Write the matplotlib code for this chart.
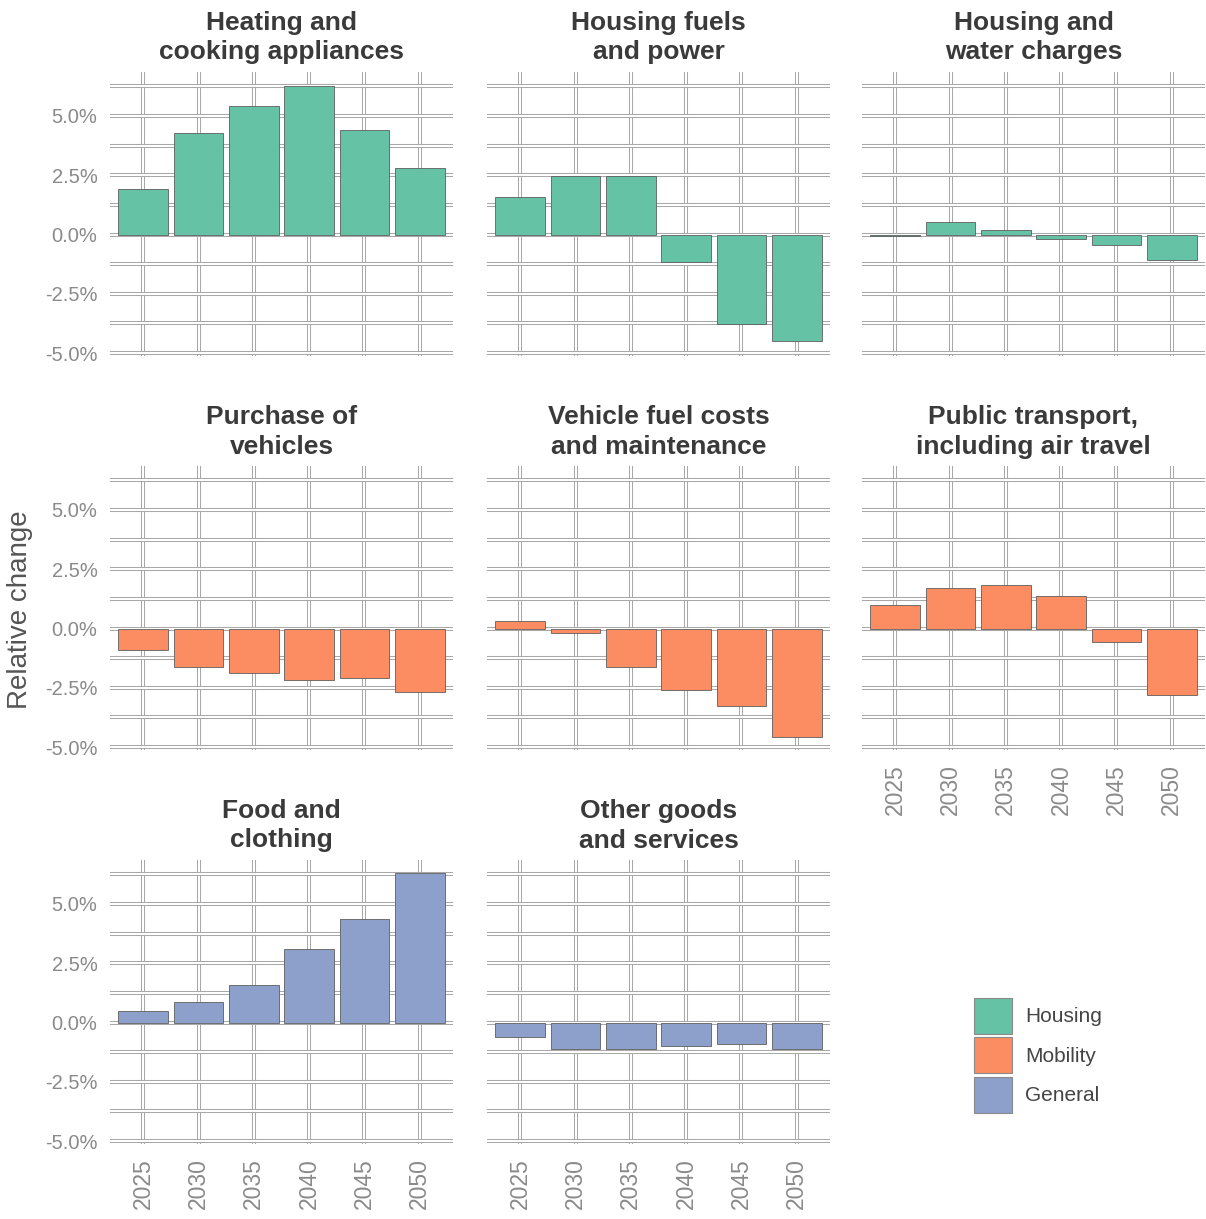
import matplotlib
matplotlib.use("Agg")
import matplotlib.pyplot as plt
import matplotlib.patheffects as pe
from matplotlib.patches import Patch
from matplotlib.ticker import FuncFormatter

plt.rcParams["font.family"] = ["Liberation Sans", "DejaVu Sans"]

years = ["2025", "2030", "2035", "2040", "2045", "2050"]

# relative change in %
heating = [1.9, 4.3, 5.4, 6.26, 4.4, 2.8]
housing_fuels = [1.6, 2.48, 2.48, -1.15, -3.78, -4.48]
housing_water = [-0.07, 0.53, 0.21, -0.18, -0.46, -1.09]
purchase = [-0.89, -1.62, -1.87, -2.18, -2.08, -2.69]
vehicle_fuel = [0.31, -0.18, -1.62, -2.58, -3.28, -4.58]
public_transport = [0.99, 1.72, 1.82, 1.39, -0.58, -2.79]
food = [0.49, 0.87, 1.58, 3.11, 4.38, 6.31]
other = [-0.61, -1.10, -1.10, -0.99, -0.89, -1.10]

titles = [
    "Heating and\ncooking appliances",
    "Housing fuels\nand power",
    "Housing and\nwater charges",
    "Purchase of\nvehicles",
    "Vehicle fuel costs\nand maintenance",
    "Public transport,\nincluding air travel",
    "Food and\nclothing",
    "Other goods\nand services",
]
series = [heating, housing_fuels, housing_water, purchase, vehicle_fuel,
          public_transport, food, other]
groups = ["Housing", "Housing", "Housing", "Mobility", "Mobility", "Mobility",
          "General", "General"]
group_colors = {"Housing": "#66C2A5", "Mobility": "#FC8D62", "General": "#8DA0CB"}

W, H = 1206, 1219
fig = plt.figure(figsize=(W / 100, H / 100), dpi=100)

col_x = [110, 487, 862]
row_y = [72, 466, 860]
pw, ph = 343, 284

all_vals = [v for s in series for v in s]
lo, hi = min(all_vals), max(all_vals)
pad = 0.05 * (hi - lo)

title_col = "#3a3a3a"
tick_col = "#8a8a8a"

for i, (title, vals, grp) in enumerate(zip(titles, series, groups)):
    r, c = divmod(i, 3)
    x0, y0 = col_x[c], row_y[r]
    ax = fig.add_axes([x0 / W, 1 - (y0 + ph) / H, pw / W, ph / H])
    xs = range(len(years))
    ax.bar(xs, vals, width=0.9, color=group_colors[grp],
           edgecolor="#5e5e5e", linewidth=0.6, zorder=3)
    ax.set_xlim(-0.6, len(years) - 0.4)
    ax.set_ylim(lo - pad, hi + pad)
    ax.set_xticks(list(xs))
    ax.set_xticklabels(years, rotation=90)
    ax.set_yticks([-5, -2.5, 0, 2.5, 5])
    ax.set_yticks([-3.75, -1.25, 1.25, 3.75, 6.25], minor=True)
    ax.yaxis.set_major_formatter(FuncFormatter(lambda v, p: f"{v:.1f}%"))
    ax.grid(True, which="both", color="white", linewidth=1.5, zorder=0)
    ax.set_axisbelow(True)
    lines = ([t.gridline for t in ax.xaxis.get_major_ticks()]
             + [t.gridline for t in ax.yaxis.get_major_ticks()]
             + [t.gridline for t in ax.yaxis.get_minor_ticks()])
    for ln in lines:
        ln.set_path_effects([pe.Stroke(linewidth=2.9, foreground="#a5a5a5"),
                             pe.Normal()])
    for s in ax.spines.values():
        s.set_visible(False)
    ax.tick_params(which="both", length=0, labelsize=14.5,
                   labelcolor=tick_col, pad=9)
    ax.tick_params(axis="x", labelsize=16.5, pad=10)
    show_x = (r == 2) or (r == 1 and c == 2)
    if not show_x:
        ax.tick_params(axis="x", labelbottom=False)
    if c != 0:
        ax.tick_params(axis="y", labelleft=False)
    ax.set_title(title, fontsize=19, fontweight="bold", color=title_col,
                 linespacing=1.3, pad=9)

fig.text(20 / W, 1 - 610 / H, "Relative change", rotation=90, fontsize=20,
         color="#555555", ha="center", va="center")

handles = [Patch(facecolor=group_colors[g], edgecolor="#8a8a8a", linewidth=0.8)
           for g in ["Housing", "Mobility", "General"]]
fig.legend(handles, ["Housing", "Mobility", "General"],
           loc="upper left", bbox_to_anchor=(955 / W, 1 - 979 / H),
           frameon=False, fontsize=15, handlelength=1.85, handleheight=2.3,
           labelspacing=0.15, handletextpad=0.6, labelcolor="#444444")

fig.savefig("out.png", dpi=100, facecolor="white")
